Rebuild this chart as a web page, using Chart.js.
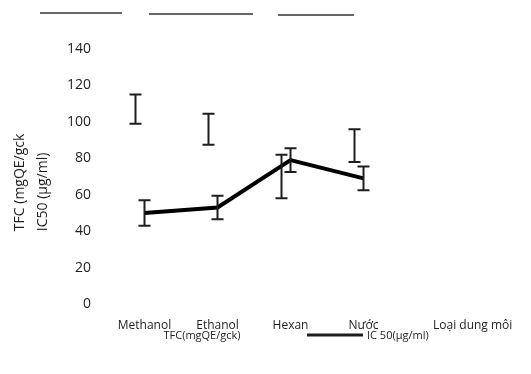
<!DOCTYPE html>
<html><head><meta charset="utf-8">
<script src="https://cdn.jsdelivr.net/npm/chart.js@4"></script>
<style>
html,body{margin:0;padding:0;background:#fff;}
#wrap{position:relative;width:531px;height:374px;overflow:hidden;}
canvas{position:absolute;left:0;top:0;}
.rule{position:absolute;height:2px;background:#666;top:12px;}
</style></head><body>
<div id="wrap">
<canvas id="c" width="531" height="374"></canvas>
<div class="rule" style="left:40px;width:82px"></div>
<div class="rule" style="left:149px;width:104px;top:13px"></div>
<div class="rule" style="left:278px;width:76px;top:14px"></div>
</div>
<script>
const categories = ['Methanol', 'Ethanol', 'Hexan', 'Nước'];
const tfcLabel = 'TFC(mgQE/gck)';
const tfcValues = [107, 96, 70, 87];
const tfcErrors = [8, 8.5, 12, 9];
const ic50Label = 'IC 50(µg/ml)';
const ic50Values = [50, 53, 79, 69];
const ic50Errors = [7, 6.5, 6.5, 6.5];
const yMin = 0, yMax = 140, yStep = 20;
const yTitleLines = ['TFC (mgQE/gck', 'IC50 (µg/ml)'];
const xTitle = 'Loại dung môi';

const errorBars = [tfcErrors, ic50Errors];
const errorOffset = [-9, 0];
const FONT = "'Open Sans', 'DejaVu Sans', sans-serif";
const INK = '#1e1e1e';

const extras = {
  id: 'extras',
  afterDatasetsDraw(chart) {
    const ctx = chart.ctx, ys = chart.scales.y, ca = chart.chartArea;
    ctx.save();
    ctx.strokeStyle = INK;
    chart.data.datasets.forEach((ds, di) => {
      const meta = chart.getDatasetMeta(di);
      meta.data.forEach((el, i) => {
        const v = ds.data[i], e = errorBars[di][i];
        const x = el.x + errorOffset[di];
        const yt = ys.getPixelForValue(v + e), yb = ys.getPixelForValue(v - e);
        ctx.lineWidth = 2;
        ctx.beginPath();
        ctx.moveTo(x, yt); ctx.lineTo(x, yb);
        ctx.moveTo(x - 6, yt); ctx.lineTo(x + 6, yt);
        ctx.moveTo(x - 6, yb); ctx.lineTo(x + 6, yb);
        ctx.stroke();
      });
    });
    // y title (two rotated lines)
    ctx.fillStyle = INK;
    ctx.font = '14px ' + FONT;
    ctx.textAlign = 'left';
    ctx.textBaseline = 'middle';
    const yBase = ys.getPixelForValue(40);
    [20, 43].forEach((lx, k) => {
      ctx.save();
      ctx.translate(lx, yBase);
      ctx.rotate(-Math.PI / 2);
      ctx.fillText(yTitleLines[k], 0, 0);
      ctx.restore();
    });
    // x title at right
    ctx.font = '12px ' + FONT;
    ctx.textAlign = 'left';
    ctx.fillText(xTitle, ca.right + 33, ca.bottom + 22);
    // legend
    ctx.font = '11px ' + FONT;
    const ly = ca.bottom + 32;
    ctx.textAlign = 'center';
    ctx.fillText(chart.data.datasets[0].label, ca.left + 94, ly);
    ctx.lineWidth = 3;
    ctx.beginPath();
    ctx.moveTo(ca.left + 199, ly - 1); ctx.lineTo(ca.left + 255, ly - 1);
    ctx.stroke();
    ctx.textAlign = 'left';
    ctx.fillText(chart.data.datasets[1].label, ca.left + 259, ly);
    ctx.restore();
  }
};

new Chart(document.getElementById('c'), {
  type: 'bar',
  data: {
    labels: categories,
    datasets: [
      { type: 'bar', label: tfcLabel, data: tfcValues, backgroundColor: 'rgba(255,255,255,0)', borderWidth: 0, order: 2 },
      { type: 'line', label: ic50Label, data: ic50Values, borderColor: '#000', borderWidth: 4, pointRadius: 0, tension: 0, fill: false, order: 1 }
    ]
  },
  options: {
    responsive: false,
    animation: false,
    devicePixelRatio: 1,
    layout: { padding: { top: 49, right: 131, left: 0, bottom: 0 } },
    plugins: { legend: { display: false }, tooltip: { enabled: false } },
    scales: {
      x: {
        offset: true,
        grid: { display: false, drawTicks: false },
        border: { display: false },
        ticks: { color: INK, font: { family: FONT, size: 12 }, padding: 14, maxRotation: 0 },
        afterFit(s) { s.height = 70; }
      },
      y: {
        min: yMin, max: yMax,
        grid: { display: false, drawTicks: false },
        border: { display: false },
        ticks: { stepSize: yStep, color: INK, font: { family: FONT, size: 14 }, padding: 17 },
        afterFit(s) { s.width = 108; }
      }
    }
  },
  plugins: [extras]
});
</script>
</body></html>
